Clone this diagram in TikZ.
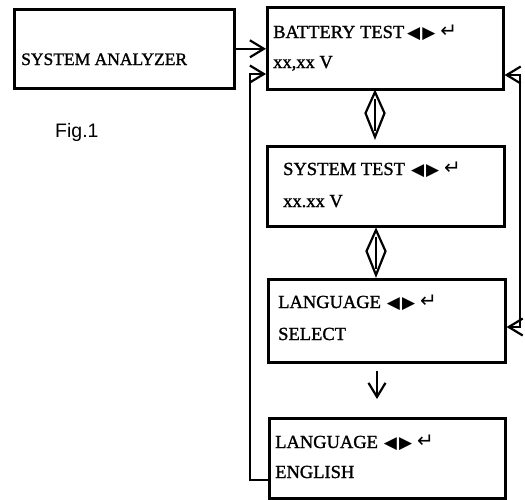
\documentclass[tikz,border=0pt]{standalone}
\usepackage{fontspec}
\setmainfont{Liberation Serif}[FakeBold=1.3]
\newfontfamily\figfont{Liberation Sans}
\newfontfamily\symfont{DejaVu Sans}
\usetikzlibrary{arrows.meta,calc}
\newcommand{\keys}{\hspace{3pt}{\symfont\fontsize{17}{17}\selectfont ◀\hspace{2pt}▶\hspace{5pt}\raisebox{0.5pt}{\fontsize{20}{20}\selectfont ↵}}}
\begin{document}
\begin{tikzpicture}[x=1pt,y=-1pt,
  box/.style={draw, line width=2.6pt, inner sep=0pt, anchor=north west},
  txt/.style={anchor=base west, inner sep=0pt, font=\fontsize{18.5}{18.5}\selectfont},
  conn/.style={line width=2.2pt},
  arr/.style={conn, -{Straight Barb[length=14pt,width=17pt,line width=2.2pt]}},
  arrs/.style={conn, {Straight Barb[length=14pt,width=17pt,line width=2.2pt]}-{Straight Barb[length=14pt,width=17pt,line width=2.2pt]}},
  lens/.style={line width=2.2pt, line join=miter}]
\useasboundingbox (0,0) rectangle (525,499);
% boxes
\node[box, minimum width=220pt, minimum height=79pt] (sa) at (13,8) {};
\node[box, minimum width=236pt, minimum height=82pt] (bt) at (266,6) {};
\node[box, minimum width=237pt, minimum height=80pt] (st) at (266,145) {};
\node[box, minimum width=237pt, minimum height=83pt] (ls) at (267,278) {};
\node[box, minimum width=236pt, minimum height=80pt] (en) at (268,417) {};
% texts
\node[txt, font=\fontsize{17.5}{17.5}\selectfont] (tsa) at (21,65) {SYSTEM ANALYZER};
\node[anchor=base west, inner sep=0pt, font=\figfont\fontsize{19.5}{19.5}\selectfont] (fig) at (55,137) {Fig.1};
\node[txt] (tbt1) at (273,38) {BATTERY TEST\keys};
\node[txt] (tbt2) at (273,68) {xx,xx V};
\node[txt] (tst1) at (283,175) {SYSTEM TEST\hspace{3pt}\keys};
\node[txt] (tst2) at (283,207) {xx.xx V};
\node[txt] (tls1) at (278,308) {LANGUAGE\hspace{3pt}\keys};
\node[txt] (tls2) at (278,340) {SELECT};
\node[txt] (ten1) at (275,448) {LANGUAGE\hspace{3pt}\keys};
\node[txt] (ten2) at (275,478) {ENGLISH};
% SA -> BT
\draw[arr] (sa.east) -- (sa.east -| bt.west);
% left loop EN -> BT
\coordinate (l1) at (250,480);
\coordinate (l2) at (250,74);
\draw[arr] (en.west |- l1) -- (l1) -- (l2) -- (l2 -| bt.west);
% right loop LS <-> BT
\coordinate (r1) at (520,75);
\coordinate (r2) at (520,327);
\draw[arrs] (r1 -| bt.east) -- (r1) -- (r2) -- (r2 -| ls.east);
% double arrows (lens)
\coordinate (d1a) at (375,92);
\coordinate (d1b) at (375,137);
\draw[lens] (d1a) -- ($(d1a)!0.47!(d1b)+(-9.5,0)$) -- (d1b) -- ($(d1a)!0.47!(d1b)+(9.5,0)$) -- cycle;
\draw[lens] ($(d1a)+(0,7)$) -- ($(d1b)+(0,-6)$);
\coordinate (d2a) at (376,230);
\coordinate (d2b) at (376,275);
\draw[lens] (d2a) -- ($(d2a)!0.47!(d2b)+(-9.5,0)$) -- (d2b) -- ($(d2a)!0.47!(d2b)+(9.5,0)$) -- cycle;
\draw[lens] ($(d2a)+(0,7)$) -- ($(d2b)+(0,-6)$);
% LS -> EN
\coordinate (dn1) at (377,371);
\coordinate (dn2) at (377,399);
\draw[arr] (dn1) -- (dn2);
\end{tikzpicture}
\end{document}
